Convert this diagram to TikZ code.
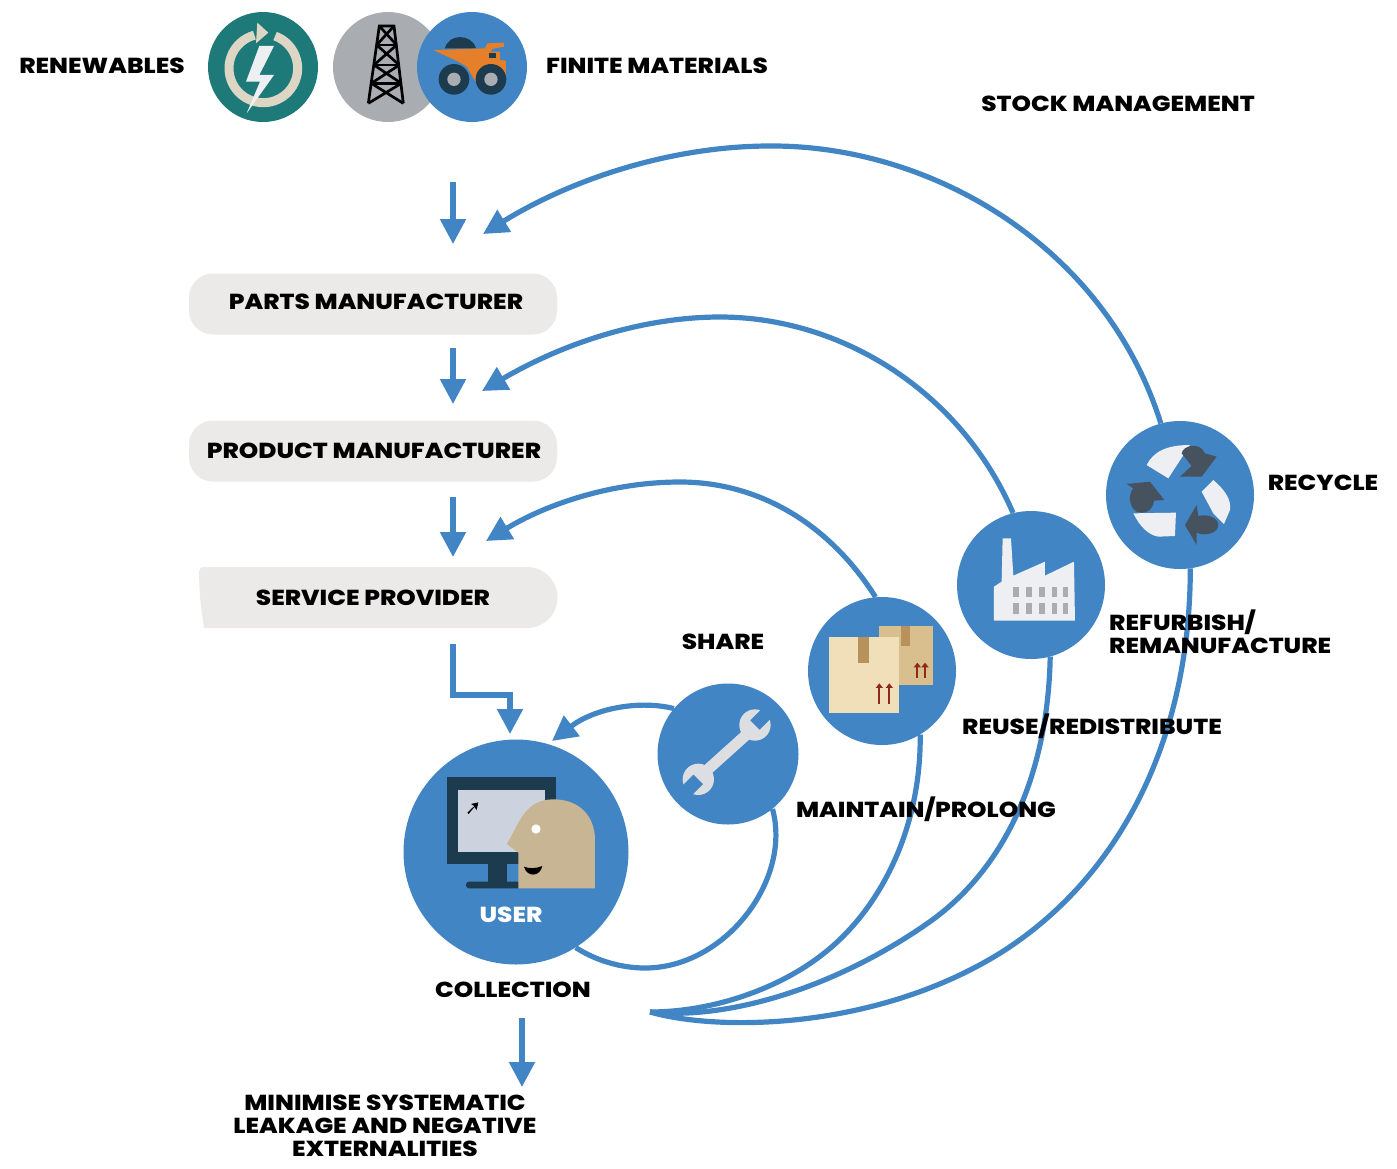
\documentclass[tikz,border=0pt]{standalone}
\usepackage{fontspec}
\newfontfamily\labfont{Poppins ExtraBold}[FakeStretch=1.14]
\usetikzlibrary{arrows.meta}
\definecolor{flow}{HTML}{4285C4}
\definecolor{teal1}{HTML}{1D7A78}
\definecolor{pill}{HTML}{EBEAE8}
\definecolor{greyc}{HTML}{A9ADB1}
\definecolor{darkb}{HTML}{1D3B4F}
\definecolor{sand}{HTML}{DDD6C4}
\definecolor{tan1}{HTML}{C8B593}
\definecolor{orng}{HTML}{E57F2A}
\definecolor{slate}{HTML}{46535F}
\definecolor{iconw}{HTML}{EEEFF2}
\definecolor{scrn}{HTML}{CDD3DE}
\tikzset{
  lab/.style={font=\fontsize{21.7}{23}\selectfont\labfont,text=black,inner sep=0pt,align=center},
  flowline/.style={draw=flow,line width=5.2pt},
  arrowline/.style={flowline,-{Triangle[length=25pt,width=25pt]}},
  disc/.style={circle,fill=flow,inner sep=0pt,minimum size=#1},
  pillbox/.style={fill=pill,rounded corners=24pt,minimum width=368pt,minimum height=61pt,inner sep=0pt},
  zoomA/.style={shift={(200,0)},x=0.3333pt,y=-0.3333pt},
  zoomB/.style={shift={(390,680)},x=0.3333pt,y=-0.3333pt},
  zoomC/.style={shift={(800,410)},x=0.3333pt,y=-0.3333pt},
}
\begin{document}
\begin{tikzpicture}[x=1pt,y=-1pt]
\useasboundingbox (0,0) rectangle (1397,1168);
\fill[white] (0,0) rectangle (1397,1168);

% pills
\node[pillbox] (parts) at (373,304) {};
\node[pillbox] (product) at (373,451) {};
\fill[pill] (202,567) -- (527,567) arc[start angle=-90,end angle=90,radius=30.5] -- (204,628) .. controls (200,600) .. (199,575) .. controls (199,570) .. (202,567) -- cycle;
\node[inner sep=0pt,minimum width=358pt,minimum height=61pt] (service) at (378,598) {};

% discs
\node[disc=148pt] (recycle) at (1180,495) {};
\node[disc=148pt] (factory) at (1031,585) {};
\node[disc=148pt] (boxes) at (882,671) {};
\node[disc=141pt] (wrench) at (728,754) {};
\node[disc=225pt] (user) at (516,852) {};
\node[circle,fill=teal1,inner sep=0pt,minimum size=110pt] (renew) at (263,67) {};
\node[circle,fill=greyc,inner sep=0pt,minimum size=110pt] (oil) at (388,67) {};
\node[disc=110pt] (truck) at (472,67) {};

% free ends
\coordinate (a0) at (453,182); \coordinate (a1) at (453,244);
\coordinate (b0) at (453,348); \coordinate (b1) at (453,404);
\coordinate (c0) at (453,497); \coordinate (c1) at (453,557);
\coordinate (d0) at (453,644); \coordinate (d1) at (453,695); \coordinate (d2) at (510,695); \coordinate (d3) at (510,734);
\coordinate (e0) at (522,1018); \coordinate (e1) at (522,1087);
\coordinate (rt) at (483,234); \coordinate (ft) at (482,391); \coordinate (bt) at (486,541);
\coordinate (wt) at (552,741);
\coordinate (hub) at (650,1012);
\coordinate (hr) at (1005,950); \coordinate (hf) at (928,923); \coordinate (hb) at (828,950);

% connectors
\draw[arrowline] (a0) -- (a1);
\draw[arrowline] (b0) -- (b1);
\draw[arrowline] (c0) -- (c1);
\draw[arrowline] (d0) -- (d1) -- (d2) -- (d3);
\draw[arrowline] (e0) -- (e1);
\draw[arrowline] (recycle.105) .. controls (1105,245) and (930,145) .. (770,146) .. controls (670,146) and (570,180) .. (rt);
\draw[arrowline] (factory.104) .. controls (960,390) and (840,317) .. (720,317) .. controls (640,317) and (560,345) .. (ft);
\draw[arrowline] (boxes.95) .. controls (830,525) and (760,482) .. (680,482) .. controls (610,482) and (545,505) .. (bt);
\draw[arrowline] (wrench.140) .. controls (640,700) and (595,708) .. (wt);
\draw[flowline] (wrench.-51) .. controls (792,880) and (725,968) .. (645,968) .. controls (620,968) and (595,960) .. (user.-58);
\draw[flowline] (hub) .. controls (710,1012) and (780,990) .. (hb) .. controls (880,907) and (921,830) .. (boxes.-59);
\draw[flowline] (hub) .. controls (725,1020) and (832,990) .. (hf) .. controls (1008,867) and (1048,770) .. (factory.-75);
\draw[flowline] (hub) .. controls (720,1032) and (880,1030) .. (hr) .. controls (1120,875) and (1190,740) .. (recycle.-82);

% renewables icon
\begin{scope}[zoomA]
  \draw[sand,line width=9pt] (190,205) ++(-70:103) arc[start angle=-70,end angle=255,radius=103];
  \fill[sand] (172,68) -- (205,98) -- (168,130) -- cycle;
  \fill[iconw] (222,138) -- (178,138) -- (138,245) -- (180,245) -- (140,340) -- (222,225) -- (178,225) -- cycle;
\end{scope}

% oil tower
\begin{scope}[zoomA,black,line width=2.7pt]
  \draw (505,310) -- (538,78) -- (582,78) -- (610,310);
  \draw (530,135) -- (590,135) (522,195) -- (598,195) (514,250) -- (604,250);
  \draw (538,78) -- (590,135) (582,78) -- (530,135);
  \draw (530,135) -- (598,195) (590,135) -- (522,195);
  \draw (522,195) -- (604,250) (598,195) -- (514,250);
  \draw (514,250) -- (610,310) (604,250) -- (505,310);
\end{scope}

% truck
\begin{scope}[zoomA]
  \fill[darkb] (735,145) .. controls (745,100) and (815,100) .. (828,145) -- cycle;
  \fill[orng] (700,150) -- (855,145) -- (862,130) -- (912,128) -- (912,140) -- (880,146) -- (870,155) -- (900,155) -- (900,180) -- (918,182) -- (918,240) -- (830,250) -- (800,200) -- (775,185) -- cycle;
  \fill[darkb] (868,158) rectangle (888,174);
  \fill[darkb] (762,238) circle[radius=46];
  \fill[greyc] (762,238) circle[radius=20];
  \fill[darkb] (873,238) circle[radius=46];
  \fill[greyc] (873,238) circle[radius=20];
\end{scope}

% user icon
\begin{scope}[zoomB]
  \fill[darkb] (170,292) rectangle (497,552);
  \fill[scrn] (205,330) rectangle (465,515);
  \fill[darkb] (295,552) rectangle (350,610);
  \fill[darkb,rounded corners=3pt] (228,605) rectangle (395,625);
  \fill[black] (232,398) -- (253,378) -- (243,372) -- (265,367) -- (260,390) -- (253,381) -- (236,402) -- cycle;
  \fill[tan1] (385,625) -- (385,518) -- (350,492) .. controls (385,440) and (400,358) .. (490,358) .. controls (570,358) and (615,410) .. (615,480) -- (615,625) -- cycle;
  \fill[white] (438,447) circle[radius=14];
  \fill[black] (402,560) .. controls (415,566) and (440,566) .. (457,558) .. controls (450,592) and (410,592) .. (402,560) -- cycle;
\end{scope}

% wrench
\begin{scope}[zoomB]
  \definecolor{wr}{HTML}{DCDEE2}
  \draw[wr,line width=11pt] (1085,150) -- (935,285);
  \fill[wr] (1095,135) circle[radius=47];
  \fill[wr] (925,298) circle[radius=47];
  \fill[flow,rotate around={45:(1095,135)}] (1095,115) rectangle (1160,155);
  \fill[flow,rotate around={45:(925,298)}] (860,278) rectangle (925,318);
\end{scope}

% recycle
\begin{scope}[zoomC]
  \fill[iconw] (1040,165) .. controls (1060,125) and (1100,105) .. (1170,105) -- (1105,205) -- cycle;
  \fill[iconw] (1205,245) -- (1240,210) .. controls (1275,240) and (1295,270) .. (1290,300) -- (1272,342) -- (1240,310) -- cycle;
  \fill[iconw] (1000,310) -- (1128,308) -- (1125,378) -- (1075,380) .. controls (1045,375) and (1020,350) .. (1000,310) -- cycle;
  \fill[slate] (1145,130) .. controls (1150,105) and (1200,95) .. (1215,130) -- (1250,140) -- (1205,200) -- (1140,200) -- (1175,168) -- cycle;
  \fill[slate] (980,222) -- (1050,215) -- (1093,270) -- (1062,272) .. controls (1060,300) and (1035,315) .. (1010,305) .. controls (985,290) and (985,250) .. (1000,235) -- cycle;
  \fill[slate] (1190,405) -- (1155,345) -- (1190,285) -- (1195,318) .. controls (1225,310) and (1255,325) .. (1255,345) .. controls (1255,370) and (1215,380) .. (1190,368) -- cycle;
\end{scope}

% factory
\begin{scope}[zoomC]
  \fill[iconw] (582,632) -- (582,530) -- (605,515) -- (608,385) -- (633,385) -- (640,497) -- (735,455) -- (735,497) -- (822,455) -- (825,632) -- cycle;
  \foreach \wx in {640,678,717,755,788}{
    \fill[greyc] (\wx,530) rectangle (\wx+17,562);
    \fill[greyc] (\wx,580) rectangle (\wx+17,612);
  }
\end{scope}

% boxes
\begin{scope}[zoomC]
  \definecolor{box1}{HTML}{F0DFB9}
  \definecolor{box2}{HTML}{D9BF8E}
  \definecolor{tape}{HTML}{B8925B}
  \definecolor{redm}{HTML}{8C2B1A}
  \fill[box2] (237,648) rectangle (398,825);
  \fill[tape] (303,648) rectangle (330,708);
  \fill[box1] (87,680) rectangle (298,910);
  \fill[tape] (175,680) rectangle (208,758);
  \foreach \ax/\ya/\yb in {238/820/882,268/820/882,352/758/805,375/758/805}{
    \draw[redm,line width=1.8pt] (\ax,\ya+8) -- (\ax,\yb);
    \fill[redm] (\ax-11,\ya+14) -- (\ax,\ya) -- (\ax+11,\ya+14) -- cycle;
  }
\end{scope}

% labels
\node[lab] (t1) at (102,66) {RENEWABLES};
\node[lab] (t2) at (657,66) {FINITE MATERIALS};
\node[lab] (t3) at (1118,104) {STOCK MANAGEMENT};
\node[lab] (tp) at (376,302) {PARTS MANUFACTURER};
\node[lab] (tq) at (374,451) {PRODUCT MANUFACTURER};
\node[lab] (ts) at (373,598) {SERVICE PROVIDER};
\node[lab] (t4) at (1323,483) {RECYCLE};
\node[lab,anchor=north west,align=left] (t5) at (1109,610) {REFURBISH/\\REMANUFACTURE};
\node[lab] (t6) at (1092,726) {REUSE/REDISTRIBUTE};
\node[lab] (t7) at (723,642) {SHARE};
\node[lab] (t8) at (926,809) {MAINTAIN/PROLONG};
\node[lab] (t9) at (513,990) {COLLECTION};
\node[lab,text=white] (t10) at (511,915) {USER};
\node[lab] (t11) at (385,1126) {MINIMISE SYSTEMATIC\\LEAKAGE AND NEGATIVE\\EXTERNALITIES};
\end{tikzpicture}
\end{document}
